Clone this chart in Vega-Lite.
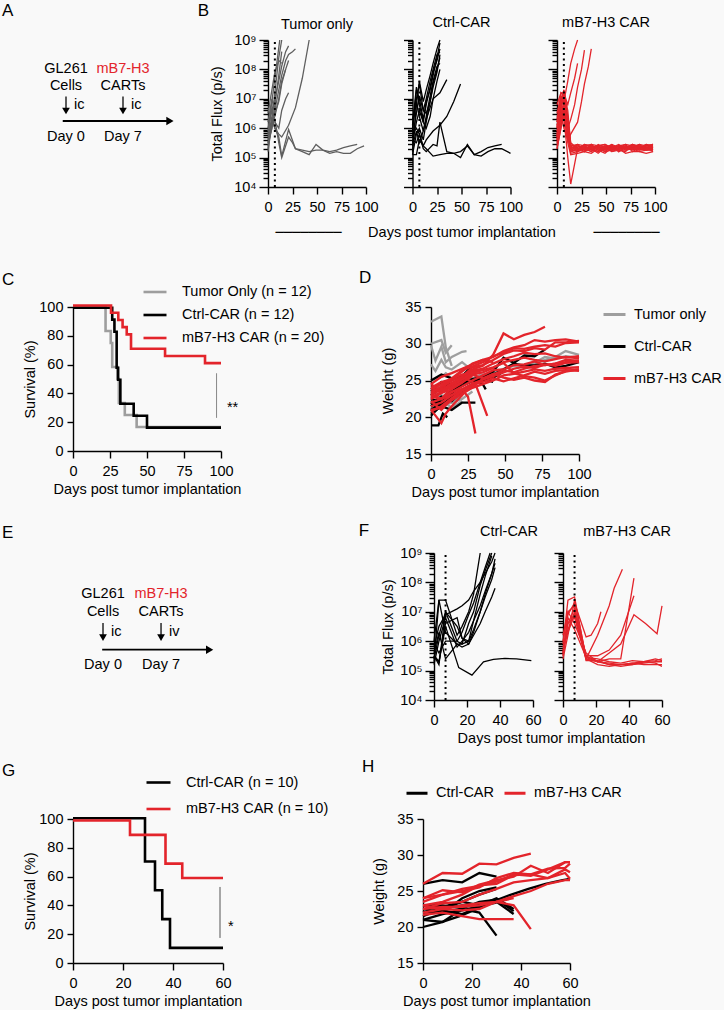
{
"$schema":"https://vega.github.io/schema/vega-lite/v6.json",
"background":"#f9f9f9",
"padding":{"left":2,"top":1,"right":2,"bottom":2},
"datasets":{
"flux":[
{"p":"B","g":"T","m":"t1","d":[0,4,7,11,14],"v":[2e5,2e6,1.6e7,2.5e8,1e9]},
{"p":"B","g":"T","m":"t2","d":[0,4,7,12],"v":[8e5,8e6,5e7,1e9]},
{"p":"B","g":"T","m":"t3","d":[0,4,7,11,14,18,21],"v":[1e6,4e6,1e7,4e7,1.3e8,4e8,6.3e8]},
{"p":"B","g":"T","m":"t4","d":[0,4,7,11,14,18,21,25,28],"v":[3.2e5,1e6,4e6,2e7,6.3e7,2e8,3.2e8,4e8,5e8]},
{"p":"B","g":"T","m":"t5","d":[0,4,7,11,14,21,28,35,42],"v":[4e5,2.5e6,1e6,6.3e5,5e5,1.26e6,5e6,5e7,1e9]},
{"p":"B","g":"T","m":"t6","d":[0,4,7,11,14,18,21],"v":[1.6e5,1.6e6,2.5e6,1e7,4e7,1e8,2e8]},
{"p":"B","g":"T","m":"t7","d":[0,4,7,11,14,18],"v":[1.6e6,1e7,3.2e6,8e6,3.2e7,1e8]},
{"p":"B","g":"T","m":"t8","d":[0,4,7,11,14,18,21],"v":[6.3e5,5e6,1.6e6,1e6,4e6,1e7,1.6e7]},
{"p":"B","g":"T","m":"t9","d":[0,4,7,11,14],"v":[2.5e5,1e6,6.3e6,6.3e7,4e8]},
{"p":"B","g":"T","m":"t10","d":[0,4,7,11,14],"v":[3.2e6,2e7,8e7,2e8,1.6e8]},
{"p":"B","g":"T","m":"t11","d":[0,4,7,11,14,21,28,35,42,49,56,63,70,77,84,91],"v":[5e5,2e6,1e6,5e5,1.12e5,9e5,2e5,1.6e5,1.26e5,2.8e5,1.8e5,1.6e5,1.8e5,2.2e5,2.5e5,2.8e5]},
{"p":"B","g":"T","m":"t12","d":[0,4,7,11,14,21,25,28,35,42,49,56,63,70,77,84,91,98],"v":[3.2e5,1.6e6,2e6,3.2e5,1e5,5e5,3.2e5,2e5,1.8e5,1.6e5,1.8e5,1.8e5,1.4e5,1.6e5,1.4e5,1.4e5,2e5,2.5e5]},
{"p":"B","g":"C","m":"c1","d":[0,4,7,11,14,18,21,25,28],"v":[1.6e5,6.3e6,4e7,8e6,2e7,6.3e7,1.6e8,5e8,1e9]},
{"p":"B","g":"C","m":"c2","d":[0,4,7,11,14,18,21,25,28],"v":[8e5,2e7,1e7,2e6,8e6,2e7,6.3e7,2.5e8,8e8]},
{"p":"B","g":"C","m":"c3","d":[0,4,7,11,14,18,21,25,28],"v":[3.2e5,1.6e6,4e6,1.6e6,6.3e6,2.5e7,8e7,2e8,5e8]},
{"p":"B","g":"C","m":"c4","d":[0,4,7,11,14,18,21,25,28],"v":[2e6,1e7,3.2e7,4e6,3.2e6,8e6,2.5e7,8e7,3.2e8]},
{"p":"B","g":"C","m":"c5","d":[0,4,7,11,14,18,21,25,28],"v":[1.26e5,6.3e5,1e6,4e5,1.6e6,8e6,3.2e7,1e8,2.5e8]},
{"p":"B","g":"C","m":"c6","d":[0,4,7,11,14,18,21,25,28],"v":[1e6,8e6,2.5e6,8e5,2.5e6,1.26e7,4e7,1.26e8,1.6e8]},
{"p":"B","g":"C","m":"c7","d":[0,4,7,11,14,18,21,25,28],"v":[5e5,3.2e6,1.26e7,4e6,1e7,4e7,1e8,3.2e8,4e8]},
{"p":"B","g":"C","m":"c8","d":[0,4,7,11,14,18,21,28,35],"v":[2.5e5,8e5,3.2e5,8e5,2e6,5e6,1e7,1.6e7,4.5e7]},
{"p":"B","g":"C","m":"c9","d":[0,4,7,11,14,21,28,35,42,49],"v":[6.3e5,1e6,6.3e5,2.5e5,4e5,8e5,1.26e6,2.5e6,8e6,3.2e7]},
{"p":"B","g":"C","m":"c10","d":[0,4,7,11,14,18,21,25,28],"v":[1.26e6,2.5e7,6.3e6,1.6e6,1e6,2.5e6,1e7,4e7,1e8]},
{"p":"B","g":"C","m":"c11","d":[0,4,7,11,14,21,25,28,35,42,49,56,63,70,77,84,91],"v":[4e5,3.2e5,6.3e5,2e5,1.6e5,2.8e5,2.5e5,1.6e6,1.6e5,1.4e5,1e5,2.8e5,1.26e5,1.6e5,2.2e5,2.5e5,2.8e5]},
{"p":"B","g":"C","m":"c12","d":[0,4,7,11,14,21,28,35,42,49,56,63,70,77,84,91,100],"v":[1.26e5,1.26e5,4e5,2.5e5,2e5,1.12e5,1.26e5,1.4e5,1.4e5,1.6e5,2.5e5,1.26e5,1.12e5,1.6e5,2e5,2e5,1.4e5]},
{"p":"B","g":"M","m":"e1","d":[0,4,7,11,14,18,21],"v":[8e5,2.5e6,8e6,4e7,1.6e8,5e8,1e9]},
{"p":"B","g":"M","m":"e2","d":[0,4,7,11,14,18,21],"v":[1.6e6,1e7,1.6e7,6.3e6,1.6e7,5e7,1.6e8]},
{"p":"B","g":"M","m":"e3","d":[0,4,7,11,14,18,21,25,28],"v":[4e5,6.3e6,4e6,1e6,2e6,6.3e6,2.5e7,1e8,4.5e8]},
{"p":"B","g":"M","m":"e4","d":[0,4,7,11,14,21,25,28,32,35],"v":[2.5e6,4e6,1e6,4e5,6.3e5,1.6e6,8e6,3.2e7,1.26e8,5e8]},
{"p":"B","g":"M","m":"s1","d":[0,4,7,11,14,21,28,35,42,49,56,63,70,77,84,91,98],"v":[2e5,1e6,1e7,1e6,2.5e5,2.8e5,1.8e5,2.5e5,2.2e5,1.6e5,2.5e5,2e5,2.2e5,2.8e5,2.2e5,2.5e5,2.2e5]},
{"p":"B","g":"M","m":"s2","d":[0,4,7,11,14,21,28,35,42,49,56,63,70,77,84,91,98],"v":[6.3e5,5e6,2e7,2.5e6,3.2e5,2e5,2.5e5,1.8e5,2.5e5,2.8e5,2e5,2.5e5,1.8e5,2.2e5,2.8e5,2e5,2.5e5]},
{"p":"B","g":"M","m":"s3","d":[0,4,7,11,14,21,28,35,42,49,56,63,70,77,84,91,98],"v":[1e6,1.6e7,1.26e7,1.6e6,2e5,1.6e5,2.2e5,2e5,1.4e5,2.2e5,2.8e5,1.6e5,2.2e5,2e5,1.8e5,2.5e5,2.8e5]},
{"p":"B","g":"M","m":"s4","d":[0,4,7,11,14,21,28,35,42,49,56,63,70,77,84,91,98],"v":[3.2e5,2.5e6,5e6,1e6,2.5e5,2.5e5,2e5,1.6e5,2.5e5,2e5,1.8e5,2.5e5,2.8e5,1.6e5,2.2e5,2.2e5,1.8e5]},
{"p":"B","g":"M","m":"s5","d":[0,4,7,11,14,21,28,35,42,49,56,63,70,77,84,91,98],"v":[2e6,1e7,6.3e6,6.3e5,1.8e5,1.8e5,2.8e5,2.2e5,2e5,2.5e5,1.6e5,2e5,2.5e5,2.2e5,2.5e5,1.8e5,2e5]},
{"p":"B","g":"M","m":"s6","d":[0,4,7,11,14,21,28,35,42,49,56,63,70,77,84,91,98],"v":[1.26e6,4e6,1.6e7,2e6,2.2e5,2.2e5,1.6e5,2.8e5,1.8e5,1.4e5,2.2e5,2.8e5,2e5,2.5e5,2e5,2.8e5,2.2e5]},
{"p":"B","g":"M","m":"s7","d":[0,4,7,11,14,21,28,35,42,49,56,63,70,77,84,91,98],"v":[5e5,8e6,8e6,1.26e6,1.6e5,2e5,2.2e5,1.8e5,2.8e5,2.2e5,2.5e5,1.8e5,1.6e5,2.8e5,2.5e5,2.2e5,1.6e5]},
{"p":"B","g":"M","m":"s8","d":[0,4,7,11,14,21,28,35,42,49,56,63,70,77,84,91,98],"v":[3.2e6,1.26e7,1e7,8e5,2e5,2.8e5,2.5e5,2e5,1.6e5,2.5e5,2e5,2.2e5,2.5e5,1.8e5,2.2e5,2.5e5,2.8e5]},
{"p":"B","g":"M","m":"s9","d":[0,4,7,11,14,21,28,35,42,49,56,63,70,77,84,91,98],"v":[8e5,2e6,4e6,5e5,1.4e5,1.6e5,2e5,2.5e5,2.2e5,1.8e5,2.5e5,1.6e5,2.2e5,2.5e5,1.8e5,2e5,2e5]},
{"p":"B","g":"M","m":"s10","d":[0,4,7,11,14,21,28,35,42,49,56,63,70,77,84,91,98],"v":[1.6e6,6.3e6,2e7,1.26e6,1.8e5,2.5e5,1.8e5,2.2e5,2.5e5,2.8e5,2.2e5,2.5e5,2e5,2.2e5,2.8e5,2.5e5,2.5e5]},
{"p":"B","g":"M","m":"s11","d":[0,4,7,11,14,21,28,35,42,49,56,63,70,77,84,91,98],"v":[4e5,1.6e6,3.2e6,3.2e5,1.26e5,1.4e5,1.6e5,1.4e5,2e5,1.6e5,1.8e5,2e5,1.4e5,1.6e5,1.6e5,1.4e5,1.6e5]},
{"p":"B","g":"M","m":"s12","d":[0,4,7,11,14,21,28,35,42,49,56,63,70,77,84,91,98],"v":[6.3e6,1.6e7,1.6e7,4e6,2.8e5,2e5,2.8e5,2.5e5,1.8e5,2e5,2.8e5,2.2e5,2.8e5,2.5e5,2.2e5,2.8e5,2.5e5]},
{"p":"B","g":"M","m":"s13","d":[0,4,7,11,14,21,28,35,42,49,56,63,70,77,84,91,98],"v":[2.5e5,1.26e6,2.5e6,6.3e5,1.6e5,1.8e5,1.6e5,2e5,1.6e5,2.2e5,1.6e5,1.8e5,1.8e5,2e5,1.6e5,1.8e5,1.8e5]},
{"p":"B","g":"M","m":"s14","d":[0,4,7,11,14,21,28,35,42,49,56,63,70,77,84,91,98],"v":[1e6,1e7,1.26e7,1e6,2.5e5,1.6e5,2.5e5,2.8e5,2.5e5,1.8e5,2.2e5,2.5e5,2.2e5,2.8e5,2e5,2.2e5,2.2e5]},
{"p":"B","g":"M","m":"s15","d":[0,4,7,11,14,21,28,35,42,49,56,63,70,77,84,91,98],"v":[2e5,1e6,2.5e6,1e5,1.26e4,2e5,2e5,2.2e5,2e5,2.2e5,2e5,2.5e5,2.2e5,2e5,2.5e5,2e5,2e5]},
{"p":"B","g":"M","m":"s16","d":[0,4,7,11,14,21,28,35,42,49,56,63,70,77,84,91,98],"v":[5e5,3.2e6,6.3e6,1.6e6,2.2e5,2e5,2e5,1.6e5,2.2e5,2.5e5,1.8e5,2e5,2.5e5,2e5,2.2e5,1.8e5,2e5]},
{"p":"F","g":"C","m":"fc1","d":[0,3,7,14,17,21,24,28],"v":[2e5,2.5e7,2.5e7,1.6e6,3.2e6,1e7,4e7,1e9]},
{"p":"F","g":"C","m":"fc2","d":[0,3,7,14,17,21,24,28,31,35],"v":[3.2e5,1.6e5,1e7,1e6,8e5,4e6,1e7,8e7,2.5e8,1e9]},
{"p":"F","g":"C","m":"fc3","d":[0,3,7,14,17,21,24,28,31,35,37],"v":[6.3e5,3.2e6,8e6,1.26e7,1.6e7,2.5e7,5e7,1e8,2e8,5e8,1e9]},
{"p":"F","g":"C","m":"fc4","d":[0,3,7,14,17,21,24,28,31,35,37],"v":[1e6,2.5e7,2e6,8e5,8e5,1e6,2.5e6,1e7,4e7,2e8,6.3e8]},
{"p":"F","g":"C","m":"fc5","d":[0,3,7,14,17,21,24,28,31,35,37],"v":[1.6e5,1e6,6.3e6,6.3e5,1e6,2e6,5e6,1.6e7,5e7,2e8,4.5e8]},
{"p":"F","g":"C","m":"fc6","d":[0,3,7,14,17,21,24,28,31,35,37],"v":[4e5,2e6,2.5e5,8e5,6.3e5,8e5,1.6e6,4e6,1e7,3.2e7,6.3e7]},
{"p":"F","g":"C","m":"fc7","d":[0,3,7,14,17,21,24,28,31,35],"v":[2.5e5,1.6e6,1e7,3.2e6,1.26e6,1e6,5e6,4e7,1.6e8,8e8]},
{"p":"F","g":"C","m":"fc8","d":[0,3,7,14,17,21,24,28,31,34],"v":[8e5,4e5,1e6,1e6,2e6,8e6,2e7,1e8,3.2e8,1e9]},
{"p":"F","g":"C","m":"fc9","d":[0,3,7,14,17,21,24,28,31,35,37],"v":[3.2e5,2e5,4e6,6.3e6,1.26e6,8e5,2e6,1e7,3.2e7,1.26e8,3.2e8]},
{"p":"F","g":"C","m":"fc10","d":[0,3,7,15,23,30,36,43,50,59],"v":[3.2e5,2e5,3.2e6,1.26e5,7e4,2e5,2.4e5,2.6e5,2.5e5,2.2e5]},
{"p":"F","g":"M","m":"fr1","d":[0,3,7,14,17,21,23],"v":[4e5,8e6,2e7,1.4e6,1.6e6,4e6,1e7]},
{"p":"F","g":"M","m":"fr2","d":[0,3,7,14,21,28,31,36],"v":[8e5,2.5e7,3.2e7,2.5e5,1.6e6,1.6e7,6.3e7,2.8e8]},
{"p":"F","g":"M","m":"fr3","d":[0,3,7,14,21,28,35,43],"v":[1.6e6,1e7,4e6,4e5,2e5,2.5e5,2.5e5,1.4e8]},
{"p":"F","g":"M","m":"fr4","d":[0,3,7,14,21,28,35,43],"v":[3.2e5,4e6,1.26e7,3.2e5,3.2e5,5e5,1.6e6,3.5e7]},
{"p":"F","g":"M","m":"fr5","d":[0,3,7,14,21,28,35,43,50,57,60],"v":[6.3e5,2.5e6,1e7,3.2e5,2e5,4e5,8e5,8e6,4e6,1.8e6,1.6e7]},
{"p":"F","g":"M","m":"fr6","d":[0,3,7,14,21,28,35,42,49,56,60],"v":[2.5e5,1.6e6,2.5e7,2.8e5,2e5,1.6e5,1.6e5,1.8e5,2e5,2.2e5,2.5e5]},
{"p":"F","g":"M","m":"fr7","d":[0,3,7,14,21,28,35,42,49,56,60],"v":[4e5,4e6,6.3e6,2.5e5,2e5,1.8e5,1.6e5,1.6e5,1.8e5,2e5,2e5]},
{"p":"F","g":"M","m":"fr8","d":[0,3,7,14,21,28,35,42,49,56,60],"v":[1e6,1e7,1.6e7,2.2e5,2.2e5,1.6e5,1.4e5,1.6e5,2e5,2.5e5,2.2e5]},
{"p":"F","g":"M","m":"fr9","d":[0,3,7,14,21,28,35,42,49,56,60],"v":[5e5,2e6,8e6,2.5e5,1.6e5,1.4e5,1.6e5,1.8e5,1.6e5,1.6e5,1.6e5]},
{"p":"F","g":"M","m":"fr10","d":[0,3,7,14,21,28,35,42,49,56,60],"v":[3.2e5,6.3e6,2.5e6,2.8e5,2.5e5,2e5,1.8e5,2.2e5,2e5,1.8e5,1.4e5]}
],
"wt":[
{"p":"D","g":"Tumor only","m":"g1","d":[0,7,10,14],"w":[33,33.7,29.5,27]},
{"p":"D","g":"Tumor only","m":"g2","d":[0,7,10,14],"w":[30,30.5,28.8,29.8]},
{"p":"D","g":"Tumor only","m":"g3","d":[0,3,7,10,14,21,24],"w":[29.8,27.7,29.6,27.5,28.2,28.9,29]},
{"p":"D","g":"Tumor only","m":"g4","d":[0,3,7,10,14,21,24,28,35],"w":[27.2,26.3,27.8,26.8,26.5,27.5,27,26.8,25.5]},
{"p":"D","g":"Tumor only","m":"g5","d":[0,7,10,14,21],"w":[25,25.5,26,25.3,24.8]},
{"p":"D","g":"Tumor only","m":"g6","d":[0,7,14,21,28,35,42,49,56,63,70,77,84,91,100],"w":[24,22.5,24,24.5,25.3,25.8,26,26.6,27,26.8,27.3,27.8,28.2,29,28.5]},
{"p":"D","g":"Tumor only","m":"g7","d":[0,7,14,21,28,35,42,49,56,63,70,77,84,91,100],"w":[22,22.5,23.3,24.4,25.2,25.5,25.4,26.5,27.3,27.1,27.4,28.2,28,28.3,28.1]},
{"p":"D","g":"Tumor only","m":"g8","d":[0,7,14,21],"w":[21,23,22.5,23.8]},
{"p":"D","g":"Tumor only","m":"g9","d":[0,7,14,21,28],"w":[20.5,21.5,22,22.5,23.5]},
{"p":"D","g":"Tumor only","m":"g10","d":[0,7,14,21],"w":[21.5,22.8,22,23]},
{"p":"D","g":"Tumor only","m":"g11","d":[0,7,14,21,28],"w":[23,24.5,25,25.5,25.8]},
{"p":"D","g":"Tumor only","m":"g12","d":[0,7,14,21],"w":[20.8,22.3,21.3,22.2]},
{"p":"D","g":"Ctrl-CAR","m":"k1","d":[0,7,14,21,28],"w":[25,25.8,25.3,25.6,27]},
{"p":"D","g":"Ctrl-CAR","m":"k2","d":[0,5,8,11],"w":[18.9,18.9,20.5,20]},
{"p":"D","g":"Ctrl-CAR","m":"k3","d":[0,7,14,21,28,30],"w":[20.5,21.5,21,22,22,22]},
{"p":"D","g":"Ctrl-CAR","m":"k4","d":[0,7,14,21,28,35,37],"w":[21,22,23.5,24.6,25,24.5,23.8]},
{"p":"D","g":"Ctrl-CAR","m":"k5","d":[0,7,14,21,28,35,42,49,56,63,70,77],"w":[22.5,22,24,24.8,25.2,25.5,26.2,28.1,27.4,28.4,28.3,29.2]},
{"p":"D","g":"Ctrl-CAR","m":"k6","d":[0,7,14,21,28,35,42,49,56,63,70,77,84,91,100],"w":[21.5,22.5,23.3,24.3,24.9,25.3,25.8,26.5,27.3,27,27.1,27.3,26.8,27,27.5]},
{"p":"D","g":"Ctrl-CAR","m":"k7","d":[0,7,14,21,28,35,42],"w":[23,24,24.5,24.8,25,25.2,24.8]},
{"p":"D","g":"Ctrl-CAR","m":"k8","d":[0,7,14,21,28],"w":[22,21.5,22.8,23.7,24.5]},
{"p":"D","g":"Ctrl-CAR","m":"k9","d":[0,7,14],"w":[20.2,21.7,22.5]},
{"p":"D","g":"Ctrl-CAR","m":"k10","d":[0,7,14,21,28],"w":[24,23.5,24.3,25,25.8]},
{"p":"D","g":"Ctrl-CAR","m":"k11","d":[0,7,14,21,28,35,42,49],"w":[21.8,22.8,22.2,23.5,24.4,25,25.4,26.2]},
{"p":"D","g":"Ctrl-CAR","m":"k12","d":[0,7,14,21],"w":[23.5,24.8,24.5,25.3]},
{"p":"D","g":"mB7-H3 CAR","m":"r1","d":[0,7,14,21,28,35,42,49,56,63,70,77],"w":[24.5,23.5,24.5,25.5,26.5,27,28.5,31.4,30.6,31.2,31.6,32.3]},
{"p":"D","g":"mB7-H3 CAR","m":"r2","d":[0,7,14,21,28,35,42,49,56,63,70,77,84,91,100],"w":[24,24.8,25.2,26.2,27.3,27.8,28.2,29,29.5,29.8,30.5,30.3,30.5,30.6,30.3]},
{"p":"D","g":"mB7-H3 CAR","m":"r3","d":[0,7,14,21,28,35,42,49,56,63,70,77,84,91,100],"w":[23.5,24,25,25.5,26.8,27.1,27.8,28.6,29.1,29,29.4,29.2,30.2,30.2,30.4]},
{"p":"D","g":"mB7-H3 CAR","m":"r4","d":[0,7,14,21,28,35,42,49,56,63,70,77,84,91,100],"w":[23,23.8,24.5,25.3,26.3,26.6,27.3,27.9,28.3,28.8,28.6,28.7,28.3,28.1,28.3]},
{"p":"D","g":"mB7-H3 CAR","m":"r5","d":[0,7,14,21,28,35,42,49,56,63,70,77,84,91,100],"w":[22.5,23.3,23.8,24.7,25.8,26.1,26.7,27.5,27.8,28.1,27.8,27.6,27.9,28.2,28]},
{"p":"D","g":"mB7-H3 CAR","m":"r6","d":[0,7,14,21,28,35,42,49,56,63,70,77,84,91,100],"w":[22,22.5,23.4,24.2,25,25.7,26.4,26.5,27.1,27.2,27.6,27.1,27.3,27.8,27.7]},
{"p":"D","g":"mB7-H3 CAR","m":"r7","d":[0,7,14,21,28,35,42,49,56,63,70,77,84,91,100],"w":[21.5,22,23,23.8,24.6,25.1,25.6,26.1,26.6,26.9,26.7,27.2,27,27.4,27.5]},
{"p":"D","g":"mB7-H3 CAR","m":"r8","d":[0,7,14,21,28,35,42,49,56,63,70,77,84,91,100],"w":[21,21.3,22.3,23.2,24,24.5,25,25.7,25.9,26.2,26.5,26.3,26.6,26.7,26.8]},
{"p":"D","g":"mB7-H3 CAR","m":"r9","d":[0,7,14,21,28,35,42,49,56,63,70,77,84,91,100],"w":[22.8,22.5,23,23.7,24.4,24.8,25.3,24.9,25.3,25.7,26.2,25.9,26.3,26.4,26.3]},
{"p":"D","g":"mB7-H3 CAR","m":"r10","d":[0,7,14,21,28,35,42,49,56,63,70,77,84,91,100],"w":[24,23.5,24.7,25.3,25.8,25.3,25.9,25.4,25.1,25.4,25,24.8,25.8,26.2,26.5]},
{"p":"D","g":"mB7-H3 CAR","m":"r11","d":[0,7,10,14,21,28],"w":[21,19.2,20.5,21.5,23,24.5]},
{"p":"D","g":"mB7-H3 CAR","m":"r12","d":[0,7,14,21,25,30],"w":[23,22.5,23.5,23.8,22.8,17.8]},
{"p":"D","g":"mB7-H3 CAR","m":"r13","d":[0,7,14,21,28,31,38],"w":[22.5,23.5,24.5,25.5,24.8,24,20.2]},
{"p":"D","g":"mB7-H3 CAR","m":"r14","d":[0,7,14,21,28,35,42],"w":[24.5,25.5,26,26.6,27.2,27.8,27.5]},
{"p":"D","g":"mB7-H3 CAR","m":"r15","d":[0,7,14,21,28,35,42,49,56,63,70,77,84,91,100],"w":[23.2,24.2,25.2,25.8,26.1,26.4,26.8,27.4,26,25.6,25.4,25,25.7,26.3,26.5]},
{"p":"D","g":"mB7-H3 CAR","m":"r16","d":[0,7,14,21,28,35,42,49,56,63,70,77,84,91,100],"w":[23.8,24.5,25.3,26.4,26.9,27.5,28.3,28.8,29.4,29.3,29.6,29.8,29.6,30.1,30.2]},
{"p":"D","g":"mB7-H3 CAR","m":"r17","d":[0,7,14,21],"w":[22.2,21,22.5,23.5]},
{"p":"D","g":"mB7-H3 CAR","m":"r18","d":[0,7,14,21,28,35],"w":[22.8,23.3,24.2,25.1,26,26.5]},
{"p":"D","g":"mB7-H3 CAR","m":"r19","d":[0,7,14,21,28,35,42,49,56,63,70,77,84,91,100],"w":[20.8,21.5,22.6,23.6,24.2,25.2,25.8,26.4,26.1,26.6,27,27.1,27.3,27.5,27.7]},
{"p":"D","g":"mB7-H3 CAR","m":"r20","d":[0,7,14,21,28],"w":[23,22.5,24,24.8,25.6]},
{"p":"H","g":"Ctrl-CAR","m":"hk1","d":[0,8,16,23,30],"w":[26,26.5,26.2,27.5,27]},
{"p":"H","g":"Ctrl-CAR","m":"hk2","d":[0,7,15,22,29,36,43,50,57,60],"w":[20,20.6,21.5,22.5,23.6,24.5,25.3,26,26.5,26.7]},
{"p":"H","g":"Ctrl-CAR","m":"hk3","d":[0,8,16,23,30],"w":[21,20.7,22.5,22,18.8]},
{"p":"H","g":"Ctrl-CAR","m":"hk4","d":[0,8,16,23,30,37],"w":[22,22.6,23,23.2,23.5,21.8]},
{"p":"H","g":"Ctrl-CAR","m":"hk5","d":[0,8,16,23,30,37],"w":[23,22.8,23.5,23,24,22.5]},
{"p":"H","g":"Ctrl-CAR","m":"hk6","d":[0,8,16,23,30],"w":[22.5,22,24,25,25.5]},
{"p":"H","g":"Ctrl-CAR","m":"hk7","d":[0,8,16,23,30],"w":[21.5,22.5,23.5,24.5,25.3]},
{"p":"H","g":"Ctrl-CAR","m":"hk8","d":[0,8,16,23,30,37],"w":[23,23,22.6,23.5,23.8,22.2]},
{"p":"H","g":"Ctrl-CAR","m":"hk9","d":[0,8,16,23],"w":[22,22.3,21.8,22.8]},
{"p":"H","g":"Ctrl-CAR","m":"hk10","d":[0,8,16,23,30],"w":[21,21.8,22.3,22.9,23.4]},
{"p":"H","g":"mB7-H3 CAR","m":"hr1","d":[0,8,16,23,30,37,44],"w":[26,27.5,27.4,28.8,28.7,29.6,30.2]},
{"p":"H","g":"mB7-H3 CAR","m":"hr2","d":[0,8,16,23,30,37,44,51,58,60],"w":[24,25.1,24.8,25.9,26.5,27,28.5,27.5,29,29]},
{"p":"H","g":"mB7-H3 CAR","m":"hr3","d":[0,8,16,23,30,37,44,51,58,60],"w":[23.5,24.5,25,25.5,26.8,27.5,27.3,28.1,28.2,28.8]},
{"p":"H","g":"mB7-H3 CAR","m":"hr4","d":[0,8,16,23,30,37,44,51,58,60],"w":[23,23.5,24.5,25.8,26,27.2,27.3,26.8,27.5,26.7]},
{"p":"H","g":"mB7-H3 CAR","m":"hr5","d":[0,8,16,23,30,37,44,51,58,60],"w":[22.5,23.3,23.5,24.5,25.3,26.2,26.5,26.8,28,27.6]},
{"p":"H","g":"mB7-H3 CAR","m":"hr6","d":[0,8,16,23,30,37,44,51,58,60],"w":[22,22.5,23,23.3,23.5,24.3,25,26,26.5,26.5]},
{"p":"H","g":"mB7-H3 CAR","m":"hr7","d":[0,8,16,23,30,37,44],"w":[23,22.5,22.3,22.5,23.5,23,19.7]},
{"p":"H","g":"mB7-H3 CAR","m":"hr8","d":[0,8,16,23,30,37],"w":[21.7,22,21.5,21.1,21.1,21.1]},
{"p":"H","g":"mB7-H3 CAR","m":"hr9","d":[0,8,16,23,30,37,44,51,58,60],"w":[24,24.5,25.3,25.7,26.3,27.3,27.1,28,29,29]},
{"p":"H","g":"mB7-H3 CAR","m":"hr10","d":[0,8,16,23,30,37],"w":[22.5,22.8,22.8,23,23.5,24]}
],
"surv":[
{"p":"C","g":"Tumor Only (n = 12)","d":[0,22,25.5,26.5,30,31,35,43,100],"s":[100,83.3,75,58.3,50,33.3,25,16.7,16.7]},
{"p":"C","g":"Ctrl-CAR (n = 12)","d":[0,26.5,28,29.5,30.5,32,41,50,100],"s":[99.5,91.2,82.8,57.8,49.5,32.8,24.5,16.2,16.2]},
{"p":"C","g":"mB7-H3 CAR (n = 20)","d":[0,25.7,30.6,33.5,36.3,39.2,62.2,89.2,100],"s":[101,96,91,86,81,71,66,61,61]},
{"p":"G","g":"Ctrl-CAR (n = 10)","d":[0,28.8,32.8,35.7,38.8,60],"s":[100.5,70.5,50.5,30.5,10.5,10.5]},
{"p":"G","g":"mB7-H3 CAR (n = 10)","d":[0,22.8,37,43.7,60],"s":[99,89,69,59,59]}
]
},
"resolve":{"scale":{"color":"independent"},"legend":{"color":"independent"}},
"vconcat":[
{"resolve":{"scale":{"color":"independent"},"legend":{"color":"independent"}},
 "vconcat":[
 {"resolve":{"scale":{"color":"independent"},"legend":{"color":"independent"}},
  "hconcat":[
  {"width":110,"height":109,
   "title":{"text":"A","anchor":"start","frame":"group","fontSize":17,"dx":-71,"offset":20},
   "data":{"values":[
    {"day":0,"line":"name","t":"GL261","k":"a"},
    {"day":0,"line":"type","t":"Cells","k":"a"},
    {"day":7,"line":"name","t":"mB7-H3","k":"b"},
    {"day":7,"line":"type","t":"CARTs","k":"a"},
    {"day":0,"line":"route","t":"ic","k":"r"},
    {"day":7,"line":"route","t":"ic","k":"r"},
    {"day":0,"line":"day","t":"Day 0","k":"a"},
    {"day":7,"line":"day","t":"Day 7","k":"a"},
    {"day":-0.4,"end":12.4,"line":"time","t":"","k":"t"}]},
   "encoding":{"x":{"field":"day","type":"quantitative","scale":{"domain":[0.86,14.37]},"axis":null},
               "y":{"field":"line","type":"ordinal","scale":{"type":"point","domain":["top","name","type","route","time","day"],"padding":0.706},"axis":null}},
   "layer":[
    {"transform":[{"filter":"datum.k == 'a'"}],"mark":{"type":"text","fontSize":14.5,"baseline":"middle","color":"#000000"},"encoding":{"text":{"field":"t"}}},
    {"transform":[{"filter":"datum.k == 'b'"}],"mark":{"type":"text","fontSize":14.5,"baseline":"middle","color":"#e3242b"},"encoding":{"text":{"field":"t"}}},
    {"transform":[{"filter":"datum.k == 'r'"}],"mark":{"type":"text","fontSize":14.5,"align":"left","baseline":"middle","dx":8,"dy":2,"color":"#000"},"encoding":{"text":{"field":"t"}}},
    {"transform":[{"filter":"datum.k == 'r'"}],"mark":{"type":"tick","orient":"vertical","size":13,"thickness":1.8,"color":"#000","yOffset":0}},
    {"transform":[{"filter":"datum.k == 'r'"}],"mark":{"type":"point","shape":"triangle-down","filled":true,"size":60,"color":"#000","opacity":1,"yOffset":8}},
    {"transform":[{"filter":"datum.k == 't'"}],"mark":{"type":"rule","strokeWidth":1.8,"color":"#000","yOffset":1},"encoding":{"x2":{"field":"end"}}},
    {"transform":[{"filter":"datum.k == 't'"}],"mark":{"type":"point","shape":"triangle-right","filled":true,"size":70,"color":"#000","opacity":1,"xOffset":3,"yOffset":1},"encoding":{"x":{"field":"end","type":"quantitative"}}}
   ]},
  {"title":{"text":"B","anchor":"start","fontSize":17,"dx":-12,"offset":-5},
   "bounds":"flush","spacing":46.5,
   "hconcat":[
    {"width":98,"height":147,
     "title":{"text":"Tumor only","anchor":"middle","fontSize":14.5,"offset":0},
     "layer":[
      {"data":{"name":"flux"},"transform":[{"filter":"datum.p=='B' && datum.g=='T'"},{"flatten":["d","v"]}],
       "mark":{"type":"line","color":"#5f5f5f","strokeWidth":1.3},
       "encoding":{
        "x":{"field":"d","type":"quantitative","scale":{"domain":[0,100]},"axis":{"values":[0,25,50,75,100],"title":"────────","titleFont":"DejaVu Sans","titleFontSize":13.7,"titleX":40,"titlePadding":12}},
        "y":{"field":"v","type":"quantitative","scale":{"type":"log","domain":[1e4,1e9]},
             "axis":{"title":"Total Flux (p/s)","values":[1e4,2e4,3e4,4e4,5e4,6e4,7e4,8e4,9e4,1e5,2e5,3e5,4e5,5e5,6e5,7e5,8e5,9e5,1e6,2e6,3e6,4e6,5e6,6e6,7e6,8e6,9e6,1e7,2e7,3e7,4e7,5e7,6e7,7e7,8e7,9e7,1e8,2e8,3e8,4e8,5e8,6e8,7e8,8e8,9e8,1e9],
                     "labelExpr":"abs(log(datum.value)/LN10 - round(log(datum.value)/LN10)) < 0.01 ? '10' + ['⁰','¹','²','³','⁴','⁵','⁶','⁷','⁸','⁹'][round(log(datum.value)/LN10)] : ''",
                     "labelOverlap":false,"labelPadding":3,"titlePadding":9,
                     "tickSize":{"condition":{"test":"abs(log(datum.value)/LN10 - round(log(datum.value)/LN10)) < 0.01","value":9},"value":5}}},
        "detail":{"field":"m"}}},
      {"data":{"values":[{}]},"mark":{"type":"rule","strokeDash":[2,3.5],"strokeWidth":2,"color":"#000"},
       "encoding":{
        "x":{"datum":7,"type":"quantitative","axis":{"values":[0,25,50,75,100],"title":"────────","titleFont":"DejaVu Sans","titleFontSize":13.7,"titleX":40,"titlePadding":12}},
        "y":{"datum":1e4,"type":"quantitative","axis":{"title":"Total Flux (p/s)","values":[1e4,2e4,3e4,4e4,5e4,6e4,7e4,8e4,9e4,1e5,2e5,3e5,4e5,5e5,6e5,7e5,8e5,9e5,1e6,2e6,3e6,4e6,5e6,6e6,7e6,8e6,9e6,1e7,2e7,3e7,4e7,5e7,6e7,7e7,8e7,9e7,1e8,2e8,3e8,4e8,5e8,6e8,7e8,8e8,9e8,1e9],
                     "labelExpr":"abs(log(datum.value)/LN10 - round(log(datum.value)/LN10)) < 0.01 ? '10' + ['⁰','¹','²','³','⁴','⁵','⁶','⁷','⁸','⁹'][round(log(datum.value)/LN10)] : ''",
                     "labelOverlap":false,"labelPadding":3,"titlePadding":9,
                     "tickSize":{"condition":{"test":"abs(log(datum.value)/LN10 - round(log(datum.value)/LN10)) < 0.01","value":9},"value":5}}},
        "y2":{"datum":1e9}}}
     ]},
    {"width":98,"height":147,
     "title":{"text":"Ctrl-CAR","anchor":"middle","fontSize":14.5,"offset":7},
     "layer":[
      {"data":{"name":"flux"},"transform":[{"filter":"datum.p=='B' && datum.g=='C'"},{"flatten":["d","v"]}],
       "mark":{"type":"line","color":"#000000","strokeWidth":1.3},
       "encoding":{
        "x":{"field":"d","type":"quantitative","scale":{"domain":[0,100]},"axis":{"values":[0,25,50,75,100],"title":"Days post tumor implantation","titlePadding":12}},
        "y":{"field":"v","type":"quantitative","scale":{"type":"log","domain":[1e4,1e9]},
             "axis":{"title":null,"labels":false,"values":[1e4,2e4,3e4,4e4,5e4,6e4,7e4,8e4,9e4,1e5,2e5,3e5,4e5,5e5,6e5,7e5,8e5,9e5,1e6,2e6,3e6,4e6,5e6,6e6,7e6,8e6,9e6,1e7,2e7,3e7,4e7,5e7,6e7,7e7,8e7,9e7,1e8,2e8,3e8,4e8,5e8,6e8,7e8,8e8,9e8,1e9],
                     "tickSize":{"condition":{"test":"abs(log(datum.value)/LN10 - round(log(datum.value)/LN10)) < 0.01","value":9},"value":5}}},
        "detail":{"field":"m"}}},
      {"data":{"values":[{}]},"mark":{"type":"rule","strokeDash":[2,3.5],"strokeWidth":2,"color":"#000"},
       "encoding":{
        "x":{"datum":7,"type":"quantitative","axis":{"values":[0,25,50,75,100],"title":"Days post tumor implantation","titlePadding":12}},
        "y":{"datum":1e4,"type":"quantitative","axis":{"title":null,"labels":false,"values":[1e4,2e4,3e4,4e4,5e4,6e4,7e4,8e4,9e4,1e5,2e5,3e5,4e5,5e5,6e5,7e5,8e5,9e5,1e6,2e6,3e6,4e6,5e6,6e6,7e6,8e6,9e6,1e7,2e7,3e7,4e7,5e7,6e7,7e7,8e7,9e7,1e8,2e8,3e8,4e8,5e8,6e8,7e8,8e8,9e8,1e9],
                     "tickSize":{"condition":{"test":"abs(log(datum.value)/LN10 - round(log(datum.value)/LN10)) < 0.01","value":9},"value":5}}},
        "y2":{"datum":1e9}}}
     ]},
    {"width":98,"height":147,
     "title":{"text":"mB7-H3 CAR","anchor":"middle","fontSize":14.5,"offset":7},
     "layer":[
      {"data":{"name":"flux"},"transform":[{"filter":"datum.p=='B' && datum.g=='M'"},{"flatten":["d","v"]}],
       "mark":{"type":"line","color":"#e3242b","strokeWidth":1.3},
       "encoding":{
        "x":{"field":"d","type":"quantitative","scale":{"domain":[0,100]},"axis":{"values":[0,25,50,75,100],"title":"────────","titleFont":"DejaVu Sans","titleFontSize":13.7,"titleX":69,"titlePadding":12}},
        "y":{"field":"v","type":"quantitative","scale":{"type":"log","domain":[1e4,1e9]},
             "axis":{"title":null,"labels":false,"values":[1e4,2e4,3e4,4e4,5e4,6e4,7e4,8e4,9e4,1e5,2e5,3e5,4e5,5e5,6e5,7e5,8e5,9e5,1e6,2e6,3e6,4e6,5e6,6e6,7e6,8e6,9e6,1e7,2e7,3e7,4e7,5e7,6e7,7e7,8e7,9e7,1e8,2e8,3e8,4e8,5e8,6e8,7e8,8e8,9e8,1e9],
                     "tickSize":{"condition":{"test":"abs(log(datum.value)/LN10 - round(log(datum.value)/LN10)) < 0.01","value":9},"value":5}}},
        "detail":{"field":"m"}}},
      {"data":{"values":[{}]},"mark":{"type":"rule","strokeDash":[2,3.5],"strokeWidth":2,"color":"#000"},
       "encoding":{
        "x":{"datum":7,"type":"quantitative","axis":{"values":[0,25,50,75,100],"title":"────────","titleFont":"DejaVu Sans","titleFontSize":13.7,"titleX":69,"titlePadding":12}},
        "y":{"datum":1e4,"type":"quantitative","axis":{"title":null,"labels":false,"values":[1e4,2e4,3e4,4e4,5e4,6e4,7e4,8e4,9e4,1e5,2e5,3e5,4e5,5e5,6e5,7e5,8e5,9e5,1e6,2e6,3e6,4e6,5e6,6e6,7e6,8e6,9e6,1e7,2e7,3e7,4e7,5e7,6e7,7e7,8e7,9e7,1e8,2e8,3e8,4e8,5e8,6e8,7e8,8e8,9e8,1e9],
                     "tickSize":{"condition":{"test":"abs(log(datum.value)/LN10 - round(log(datum.value)/LN10)) < 0.01","value":9},"value":5}}},
        "y2":{"datum":1e9}}}
     ]}
   ]}
 ],"spacing":14},
 {"resolve":{"scale":{"color":"independent"},"legend":{"color":"independent"}},
  "hconcat":[
  {"width":148,"height":144,
   "title":{"text":"C","anchor":"start","frame":"group","fontSize":17,"dx":-71,"offset":-10},
   "layer":[
    {"data":{"name":"surv"},"transform":[{"filter":"datum.p=='C'"},{"flatten":["d","s"]}],
     "mark":{"type":"line","interpolate":"step-after","strokeWidth":2.6},
     "encoding":{
      "x":{"field":"d","type":"quantitative","scale":{"domain":[0,100]},"axis":{"values":[0,25,50,75,100],"title":"Days post tumor implantation"}},
      "y":{"field":"s","type":"quantitative","scale":{"domain":[0,100]},"axis":{"values":[0,20,40,60,80,100],"title":"Survival (%)","titlePadding":1}},
      "color":{"field":"g","type":"nominal","scale":{"domain":["Tumor Only (n = 12)","Ctrl-CAR (n = 12)","mB7-H3 CAR (n = 20)"],"range":["#9e9e9e","#000000","#e3242b"]},
               "legend":{"title":null,"orient":"none","legendX":69,"legendY":-28,"symbolType":"stroke","symbolSize":529,"symbolStrokeWidth":2.6,"labelOffset":14,"rowPadding":3,"labelLimit":400}}}},
    {"data":{"values":[{}]},"mark":{"type":"rule","color":"#888888","strokeWidth":1},
     "encoding":{"x":{"datum":97,"type":"quantitative","axis":{"values":[0,25,50,75,100],"title":"Days post tumor implantation"}},
                 "y":{"datum":23,"type":"quantitative","axis":{"values":[0,20,40,60,80,100],"title":"Survival (%)","titlePadding":1}},"y2":{"datum":54}}},
    {"data":{"values":[{}]},"mark":{"type":"text","text":"**","fontSize":14.5,"align":"left","baseline":"middle"},
     "encoding":{"x":{"datum":104,"type":"quantitative","axis":{"values":[0,25,50,75,100],"title":"Days post tumor implantation"}},
                 "y":{"datum":30,"type":"quantitative","axis":{"values":[0,20,40,60,80,100],"title":"Survival (%)","titlePadding":1}}}}
   ]},
  {"width":148,"height":147,
   "title":{"text":"D","anchor":"start","frame":"group","fontSize":17,"dx":-72,"offset":12},
   "data":{"name":"wt"},
   "transform":[{"filter":"datum.p=='D'"},{"flatten":["d","w"]}],
   "mark":{"type":"line","strokeWidth":2.3},
   "encoding":{
    "x":{"field":"d","type":"quantitative","scale":{"domain":[0,100]},"axis":{"values":[0,25,50,75,100],"title":"Days post tumor implantation"}},
    "y":{"field":"w","type":"quantitative","scale":{"domain":[15,35]},"axis":{"values":[15,20,25,30,35],"title":"Weight (g)","titlePadding":9}},
    "color":{"field":"g","type":"nominal","scale":{"domain":["Tumor only","Ctrl-CAR","mB7-H3 CAR"],"range":["#9e9e9e","#000000","#e3242b"]},
             "legend":{"title":null,"orient":"none","legendX":171,"legendY":-5,"symbolType":"stroke","symbolSize":484,"symbolStrokeWidth":3,"labelOffset":7,"rowPadding":13,"labelLimit":400}},
    "detail":{"field":"m"}}}
 ],"spacing":34}
],"spacing":29},
{"resolve":{"scale":{"color":"independent"},"legend":{"color":"independent"}},
 "vconcat":[
 {"resolve":{"scale":{"color":"independent"},"legend":{"color":"independent"}},
  "hconcat":[
  {"width":270,"height":118,
   "data":{"values":[
    {"day":-12.18,"line":"top1","t":"E","k":"L"},
    {"day":0,"line":"name","t":"GL261","k":"a"},
    {"day":0,"line":"type","t":"Cells","k":"a"},
    {"day":7,"line":"name","t":"mB7-H3","k":"b"},
    {"day":7,"line":"type","t":"CARTs","k":"a"},
    {"day":0,"line":"route","t":"ic","k":"r"},
    {"day":7,"line":"route","t":"iv","k":"r"},
    {"day":0,"line":"day","t":"Day 0","k":"a"},
    {"day":7,"line":"day","t":"Day 7","k":"a"},
    {"day":-0.1,"end":12.5,"line":"time","t":"","k":"t"}]},
   "encoding":{"x":{"field":"day","type":"quantitative","scale":{"domain":[-3.62,28.95]},"axis":null},
               "y":{"field":"line","type":"ordinal","scale":{"type":"point","domain":["top1","top2","name","type","route","time","day"],"padding":0.35},"axis":null}},
   "layer":[
    {"transform":[{"filter":"datum.k == 'L'"}],"mark":{"type":"text","fontSize":17,"align":"left","baseline":"middle","color":"#000000","yOffset":-26},"encoding":{"text":{"field":"t"}}},
    {"transform":[{"filter":"datum.k == 'a'"}],"mark":{"type":"text","fontSize":14.5,"baseline":"middle","color":"#000000"},"encoding":{"text":{"field":"t"}}},
    {"transform":[{"filter":"datum.k == 'b'"}],"mark":{"type":"text","fontSize":14.5,"baseline":"middle","color":"#e3242b"},"encoding":{"text":{"field":"t"}}},
    {"transform":[{"filter":"datum.k == 'r'"}],"mark":{"type":"text","fontSize":14.5,"align":"left","baseline":"middle","dx":8,"dy":2,"color":"#000"},"encoding":{"text":{"field":"t"}}},
    {"transform":[{"filter":"datum.k == 'r'"}],"mark":{"type":"tick","orient":"vertical","size":13,"thickness":1.8,"color":"#000","yOffset":0}},
    {"transform":[{"filter":"datum.k == 'r'"}],"mark":{"type":"point","shape":"triangle-down","filled":true,"size":60,"color":"#000","opacity":1,"yOffset":8}},
    {"transform":[{"filter":"datum.k == 't'"}],"mark":{"type":"rule","strokeWidth":1.8,"color":"#000","yOffset":2.5},"encoding":{"x2":{"field":"end"}}},
    {"transform":[{"filter":"datum.k == 't'"}],"mark":{"type":"point","shape":"triangle-right","filled":true,"size":70,"color":"#000","opacity":1,"xOffset":3,"yOffset":2.5},"encoding":{"x":{"field":"end","type":"quantitative"}}}
   ]},
  {"title":{"text":"F","anchor":"start","fontSize":17,"dx":-22,"offset":-16},
   "bounds":"flush","spacing":30,
   "hconcat":[
    {"width":99,"height":147,
     "title":{"text":"Ctrl-CAR","anchor":"end","frame":"group","fontSize":14.5,"offset":6,"dx":5},
     "layer":[
      {"data":{"name":"flux"},"transform":[{"filter":"datum.p=='F' && datum.g=='C'"},{"flatten":["d","v"]}],
       "mark":{"type":"line","color":"#000000","strokeWidth":1.3},
       "encoding":{
        "x":{"field":"d","type":"quantitative","scale":{"domain":[0,60]},"axis":{"values":[0,20,40,60],"title":"Days post tumor implantation","titleX":117}},
        "y":{"field":"v","type":"quantitative","scale":{"type":"log","domain":[1e4,1e9]},
             "axis":{"title":"Total Flux (p/s)","values":[1e4,2e4,3e4,4e4,5e4,6e4,7e4,8e4,9e4,1e5,2e5,3e5,4e5,5e5,6e5,7e5,8e5,9e5,1e6,2e6,3e6,4e6,5e6,6e6,7e6,8e6,9e6,1e7,2e7,3e7,4e7,5e7,6e7,7e7,8e7,9e7,1e8,2e8,3e8,4e8,5e8,6e8,7e8,8e8,9e8,1e9],
                     "labelExpr":"abs(log(datum.value)/LN10 - round(log(datum.value)/LN10)) < 0.01 ? '10' + ['⁰','¹','²','³','⁴','⁵','⁶','⁷','⁸','⁹'][round(log(datum.value)/LN10)] : ''",
                     "labelOverlap":false,"labelPadding":3,"titlePadding":4,
                     "tickSize":{"condition":{"test":"abs(log(datum.value)/LN10 - round(log(datum.value)/LN10)) < 0.01","value":9},"value":5}}},
        "detail":{"field":"m"}}},
      {"data":{"values":[{}]},"mark":{"type":"rule","strokeDash":[2,3.5],"strokeWidth":2,"color":"#000"},
       "encoding":{
        "x":{"datum":7,"type":"quantitative","axis":{"values":[0,20,40,60],"title":"Days post tumor implantation","titleX":117}},
        "y":{"datum":1e4,"type":"quantitative","axis":{"title":"Total Flux (p/s)","values":[1e4,2e4,3e4,4e4,5e4,6e4,7e4,8e4,9e4,1e5,2e5,3e5,4e5,5e5,6e5,7e5,8e5,9e5,1e6,2e6,3e6,4e6,5e6,6e6,7e6,8e6,9e6,1e7,2e7,3e7,4e7,5e7,6e7,7e7,8e7,9e7,1e8,2e8,3e8,4e8,5e8,6e8,7e8,8e8,9e8,1e9],
                     "labelExpr":"abs(log(datum.value)/LN10 - round(log(datum.value)/LN10)) < 0.01 ? '10' + ['⁰','¹','²','³','⁴','⁵','⁶','⁷','⁸','⁹'][round(log(datum.value)/LN10)] : ''",
                     "labelOverlap":false,"labelPadding":3,"titlePadding":4,
                     "tickSize":{"condition":{"test":"abs(log(datum.value)/LN10 - round(log(datum.value)/LN10)) < 0.01","value":9},"value":5}}},
        "y2":{"datum":1e9}}}
     ]},
    {"width":99,"height":147,
     "title":{"text":"mB7-H3 CAR","anchor":"end","frame":"group","fontSize":14.5,"offset":13,"dx":9},
     "layer":[
      {"data":{"name":"flux"},"transform":[{"filter":"datum.p=='F' && datum.g=='M'"},{"flatten":["d","v"]}],
       "mark":{"type":"line","color":"#e3242b","strokeWidth":1.3},
       "encoding":{
        "x":{"field":"d","type":"quantitative","scale":{"domain":[0,60]},"axis":{"values":[0,20,40,60],"title":null}},
        "y":{"field":"v","type":"quantitative","scale":{"type":"log","domain":[1e4,1e9]},
             "axis":{"title":null,"labels":false,"values":[1e4,2e4,3e4,4e4,5e4,6e4,7e4,8e4,9e4,1e5,2e5,3e5,4e5,5e5,6e5,7e5,8e5,9e5,1e6,2e6,3e6,4e6,5e6,6e6,7e6,8e6,9e6,1e7,2e7,3e7,4e7,5e7,6e7,7e7,8e7,9e7,1e8,2e8,3e8,4e8,5e8,6e8,7e8,8e8,9e8,1e9],
                     "tickSize":{"condition":{"test":"abs(log(datum.value)/LN10 - round(log(datum.value)/LN10)) < 0.01","value":9},"value":5}}},
        "detail":{"field":"m"}}},
      {"data":{"values":[{}]},"mark":{"type":"rule","strokeDash":[2,3.5],"strokeWidth":2,"color":"#000"},
       "encoding":{
        "x":{"datum":7,"type":"quantitative","axis":{"values":[0,20,40,60],"title":null}},
        "y":{"datum":1e4,"type":"quantitative","axis":{"title":null,"labels":false,"values":[1e4,2e4,3e4,4e4,5e4,6e4,7e4,8e4,9e4,1e5,2e5,3e5,4e5,5e5,6e5,7e5,8e5,9e5,1e6,2e6,3e6,4e6,5e6,6e6,7e6,8e6,9e6,1e7,2e7,3e7,4e7,5e7,6e7,7e7,8e7,9e7,1e8,2e8,3e8,4e8,5e8,6e8,7e8,8e8,9e8,1e9],
                     "tickSize":{"condition":{"test":"abs(log(datum.value)/LN10 - round(log(datum.value)/LN10)) < 0.01","value":9},"value":5}}},
        "y2":{"datum":1e9}}}
     ]}
   ]}
 ],"spacing":15},
 {"resolve":{"scale":{"color":"independent"},"legend":{"color":"independent"}},
  "hconcat":[
  {"width":150,"height":144,
   "title":{"text":"G","anchor":"start","frame":"group","fontSize":17,"dx":-71,"offset":-11},
   "layer":[
    {"data":{"name":"surv"},"transform":[{"filter":"datum.p=='G'"},{"flatten":["d","s"]}],
     "mark":{"type":"line","interpolate":"step-after","strokeWidth":2.6},
     "encoding":{
      "x":{"field":"d","type":"quantitative","scale":{"domain":[0,60]},"axis":{"values":[0,20,40,60],"title":"Days post tumor implantation"}},
      "y":{"field":"s","type":"quantitative","scale":{"domain":[0,100]},"axis":{"values":[0,20,40,60,80,100],"title":"Survival (%)","titlePadding":1}},
      "color":{"field":"g","type":"nominal","scale":{"domain":["Ctrl-CAR (n = 10)","mB7-H3 CAR (n = 10)"],"range":["#000000","#e3242b"]},
               "legend":{"title":null,"orient":"none","legendX":72,"legendY":-50,"symbolType":"stroke","symbolSize":576,"symbolStrokeWidth":2.6,"labelOffset":14,"rowPadding":6.5,"labelLimit":400}}}},
    {"data":{"values":[{}]},"mark":{"type":"rule","color":"#555555","strokeWidth":1},
     "encoding":{"x":{"datum":58.8,"type":"quantitative","axis":{"values":[0,20,40,60],"title":"Days post tumor implantation"}},
                 "y":{"datum":17.4,"type":"quantitative","axis":{"values":[0,20,40,60,80,100],"title":"Survival (%)","titlePadding":1}},"y2":{"datum":52.8}}},
    {"data":{"values":[{}]},"mark":{"type":"text","text":"*","fontSize":14.5,"align":"left","baseline":"middle"},
     "encoding":{"x":{"datum":62,"type":"quantitative","axis":{"values":[0,20,40,60],"title":"Days post tumor implantation"}},
                 "y":{"datum":25,"type":"quantitative","axis":{"values":[0,20,40,60,80,100],"title":"Survival (%)","titlePadding":1}}}}
   ]},
  {"width":147,"height":144,
   "title":{"text":"H","anchor":"start","frame":"group","fontSize":17,"dx":-61,"offset":5},
   "data":{"name":"wt"},
   "transform":[{"filter":"datum.p=='H'"},{"flatten":["d","w"]}],
   "mark":{"type":"line","strokeWidth":2.3},
   "encoding":{
    "x":{"field":"d","type":"quantitative","scale":{"domain":[0,60]},"axis":{"values":[0,20,40,60],"title":"Days post tumor implantation"}},
    "y":{"field":"w","type":"quantitative","scale":{"domain":[15,35]},"axis":{"values":[15,20,25,30,35],"title":"Weight (g)","titlePadding":10}},
    "color":{"field":"g","type":"nominal","scale":{"domain":["Ctrl-CAR","mB7-H3 CAR"],"range":["#000000","#e3242b"]},
             "legend":{"title":null,"orient":"none","direction":"horizontal","legendX":-18,"legendY":-38,"symbolType":"stroke","symbolSize":441,"symbolStrokeWidth":3,"labelOffset":7,"columnPadding":4,"labelLimit":400}},
    "detail":{"field":"m"}}}
 ],"spacing":33}
],"spacing":13}
],
"spacing":22,
"config":{
 "font":"Liberation Sans",
 "view":{"stroke":null},
 "axis":{"grid":false,"domainColor":"#000","tickColor":"#000","labelColor":"#000","titleColor":"#000","labelFontSize":14.5,"titleFontSize":14.5,"titleFontWeight":"normal","domainWidth":1.4,"tickWidth":1.4,"labelFont":"Liberation Sans","titleFont":"Liberation Sans"},
 "axisX":{"tickSize":7,"labelPadding":6,"labelFlush":false,"titlePadding":5},
 "axisY":{"tickSize":6,"labelPadding":4},
 "title":{"fontWeight":"normal","color":"#000","font":"Liberation Sans"},
 "legend":{"labelFont":"Liberation Sans","labelColor":"#000","labelFontSize":14.5}
}
}
